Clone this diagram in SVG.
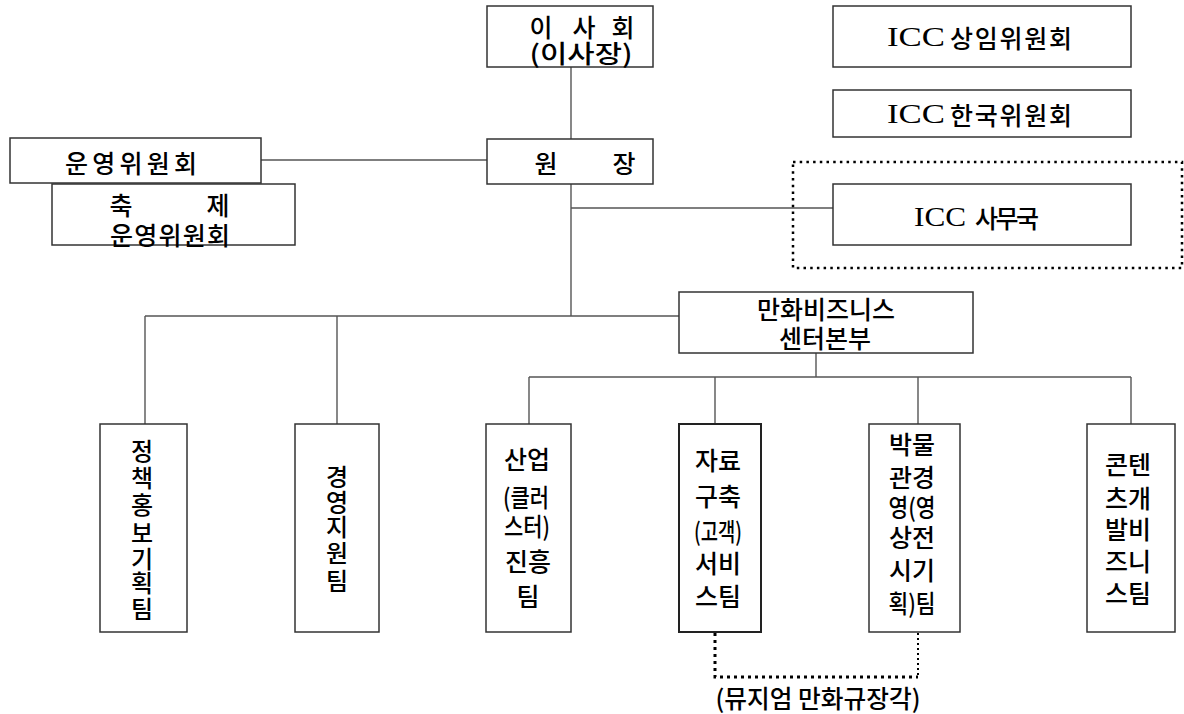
<svg xmlns="http://www.w3.org/2000/svg" width="1184" height="714" viewBox="0 0 1184 714">
<style>
.box{fill:#fff;stroke:#333;stroke-width:1.5}
.ln{fill:none;stroke:#555;stroke-width:1.4}
.dot{fill:none;stroke:#000;stroke-width:2.5;stroke-dasharray:2.5 4.2}
.t{font-family:"Noto Sans CJK KR","Noto Sans CJK SC",sans-serif;font-size:25px;font-weight:500;fill:#000;text-anchor:middle;dominant-baseline:central}
.v{font-family:"Noto Sans CJK KR","Noto Sans CJK SC",sans-serif;font-size:24px;font-weight:500;fill:#000;text-anchor:middle;dominant-baseline:central}
.s{font-family:"Liberation Serif","Noto Sans CJK KR",serif;font-size:27px;fill:#000;text-anchor:start;dominant-baseline:central}
.k{font-family:"Noto Sans CJK KR","Noto Sans CJK SC",sans-serif;font-size:25px;font-weight:500;fill:#000;text-anchor:start;dominant-baseline:central}
</style>
<rect width="1184" height="714" fill="#fff"/>
<g id="connectors">
<line class="ln" x1="571" y1="67" x2="571" y2="139"/>
<line class="ln" x1="571" y1="184" x2="571" y2="316"/>
<line class="ln" x1="261" y1="160" x2="487" y2="160"/>
<line class="ln" x1="571" y1="208" x2="833" y2="208"/>
<line class="ln" x1="145" y1="316" x2="679" y2="316"/>
<line class="ln" x1="145" y1="316" x2="145" y2="424"/>
<line class="ln" x1="337" y1="316" x2="337" y2="424"/>
<line class="ln" x1="816" y1="353" x2="816" y2="377"/>
<line class="ln" x1="529" y1="377" x2="1131" y2="377"/>
<line class="ln" x1="529" y1="377" x2="529" y2="424"/>
<line class="ln" x1="715" y1="377" x2="715" y2="424"/>
<line class="ln" x1="918" y1="377" x2="918" y2="424"/>
<line class="ln" x1="1131" y1="377" x2="1131" y2="424"/>
<rect class="dot" x="793" y="162" width="389" height="106"/>
<path d="M715,633 V677 H918" fill="none" stroke="#000" stroke-width="3" stroke-dasharray="3 4"/>
<path d="M918,633 V677" fill="none" stroke="#000" stroke-width="2" stroke-dasharray="2 3"/>
</g>
<g id="board">
<rect class="box" x="487" y="6" width="166" height="61"/>
<text class="t"><tspan x="541" y="26">이</tspan><tspan x="584" y="26">사</tspan><tspan x="623" y="26">회</tspan></text>
<text class="t" x="581" y="52" textLength="103" lengthAdjust="spacingAndGlyphs">(이사장)</text>
</g>
<g id="director">
<rect class="box" x="487" y="139" width="166" height="45"/>
<text class="t"><tspan x="546" y="162">원</tspan><tspan x="624" y="162">장</tspan></text>
</g>
<g id="steering">
<rect class="box" x="10" y="138" width="251" height="45"/>
<text class="t" x="131" y="162" textLength="132">운영위원회</text>
</g>
<g id="festival">
<rect class="box" x="52" y="184" width="243" height="61"/>
<text class="t"><tspan x="121" y="204">축</tspan><tspan x="218" y="204">제</tspan></text>
<text class="t" x="170" y="234" textLength="120">운영위원회</text>
</g>
<g id="icc-standing">
<rect class="box" x="833" y="6" width="298" height="61"/>
<text class="s" x="887" y="37" textLength="58" lengthAdjust="spacingAndGlyphs">ICC</text>
<text class="k" x="950" y="37" textLength="122">상임위원회</text>
</g>
<g id="icc-korea">
<rect class="box" x="833" y="90" width="298" height="47"/>
<text class="s" x="887" y="114" textLength="58" lengthAdjust="spacingAndGlyphs">ICC</text>
<text class="k" x="950" y="114" textLength="122">한국위원회</text>
</g>
<g id="icc-office">
<rect class="box" x="833" y="184" width="298" height="61"/>
<text class="s" x="914" y="217" textLength="52" lengthAdjust="spacingAndGlyphs">ICC</text>
<text class="k" x="975" y="217" textLength="64">사무국</text>
</g>
<g id="manhwa-hq">
<rect class="box" x="679" y="292" width="294" height="61"/>
<text class="t" x="826" y="308">만화비즈니스</text>
<text class="t" x="825" y="337">센터본부</text>
</g>
<g id="team-policy">
<rect class="box" x="100" y="424" width="87" height="208"/>
<text class="v"><tspan x="142" y="449">정</tspan><tspan x="142" y="476">책</tspan><tspan x="142" y="503">홍</tspan><tspan x="142" y="531">보</tspan><tspan x="142" y="557">기</tspan><tspan x="142" y="581">획</tspan><tspan x="142" y="607">팀</tspan></text>
</g>
<g id="team-mgmt">
<rect class="box" x="295" y="424" width="84" height="208"/>
<text class="v"><tspan x="337" y="475">경</tspan><tspan x="337" y="500">영</tspan><tspan x="337" y="525">지</tspan><tspan x="337" y="551">원</tspan><tspan x="337" y="579">팀</tspan></text>
</g>
<g id="team-industry">
<rect class="box" x="486" y="424" width="85" height="208"/>
<text class="t" x="527" y="458">산업</text>
<text class="t" x="526" y="496" textLength="46" lengthAdjust="spacingAndGlyphs">(클러</text>
<text class="t" x="527" y="525" textLength="46" lengthAdjust="spacingAndGlyphs">스터)</text>
<text class="t" x="528" y="560">진흥</text>
<text class="t" x="528" y="595">팀</text>
</g>
<g id="team-archive">
<rect class="box" x="679" y="424" width="82" height="208" style="stroke:#222;stroke-width:2"/>
<text class="t" x="718" y="459">자료</text>
<text class="t" x="718" y="495">구축</text>
<text class="t" x="718" y="530" textLength="48" lengthAdjust="spacingAndGlyphs">(고객)</text>
<text class="t" x="718" y="562">서비</text>
<text class="t" x="718" y="595">스팀</text>
</g>
<g id="team-museum">
<rect class="box" x="869" y="424" width="91" height="208"/>
<text class="t" x="912" y="443">박물</text>
<text class="t" x="912" y="476">관경</text>
<text class="t" x="912" y="506" textLength="47" lengthAdjust="spacingAndGlyphs">영(영</text>
<text class="t" x="912" y="536">상전</text>
<text class="t" x="912" y="569">시기</text>
<text class="t" x="912" y="602" textLength="47" lengthAdjust="spacingAndGlyphs">획)팀</text>
</g>
<g id="team-content">
<rect class="box" x="1087" y="424" width="88" height="208"/>
<text class="t" x="1128" y="463">콘텐</text>
<text class="t" x="1128" y="497">츠개</text>
<text class="t" x="1128" y="528">발비</text>
<text class="t" x="1128" y="560">즈니</text>
<text class="t" x="1128" y="592">스팀</text>
</g>
<g id="museum-label">
<text class="t" x="818" y="697" textLength="205" lengthAdjust="spacingAndGlyphs">(뮤지엄 만화규장각)</text>
</g>
</svg>
